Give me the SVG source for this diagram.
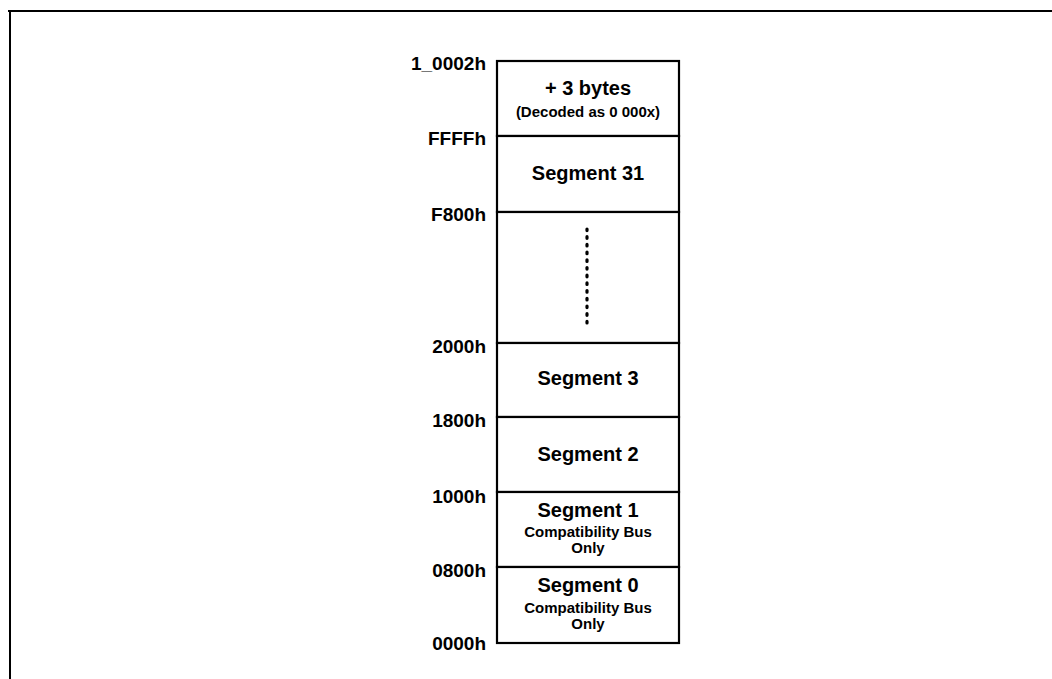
<svg xmlns="http://www.w3.org/2000/svg" width="1052" height="679" viewBox="0 0 1052 679">
<style>
.seg{fill:#fff;stroke:#000;stroke-width:2.2}
.addr{font-family:"Liberation Sans",Arial,sans-serif;font-weight:bold;font-size:19px;text-anchor:end;fill:#000}
.t{font-family:"Liberation Sans",Arial,sans-serif;font-weight:bold;font-size:20px;text-anchor:middle;fill:#000}
.s{font-family:"Liberation Sans",Arial,sans-serif;font-weight:bold;font-size:15px;text-anchor:middle;fill:#000}
</style>
<rect width="1052" height="679" fill="#fff"/>
<path d="M8,11 H1052 M10,11 V679" stroke="#000" stroke-width="2" fill="none"/>
<g id="seg-top"><rect class="seg" x="497" y="61" width="182" height="75"/>
<text class="t" x="588" y="95">+ 3 bytes</text><text class="s" x="588" y="117">(Decoded as 0 000x)</text></g>
<g id="seg31"><rect class="seg" x="497" y="136" width="182" height="76"/>
<text class="t" x="588" y="180">Segment 31</text></g>
<g id="seg-gap"><rect class="seg" x="497" y="212" width="182" height="131"/>
<line x1="587" y1="229" x2="587" y2="326" stroke="#000" stroke-width="3.2" stroke-linecap="round" stroke-dasharray="1.6,6.1"/></g>
<g id="seg3"><rect class="seg" x="497" y="343" width="182" height="74"/>
<text class="t" x="588" y="385">Segment 3</text></g>
<g id="seg2"><rect class="seg" x="497" y="417" width="182" height="75"/>
<text class="t" x="588" y="461">Segment 2</text></g>
<g id="seg1"><rect class="seg" x="497" y="492" width="182" height="75"/>
<text class="t" x="588" y="517">Segment 1</text><text class="s" x="588" y="537">Compatibility Bus</text><text class="s" x="588" y="553">Only</text></g>
<g id="seg0"><rect class="seg" x="497" y="567" width="182" height="76"/>
<text class="t" x="588" y="592">Segment 0</text><text class="s" x="588" y="613">Compatibility Bus</text><text class="s" x="588" y="629">Only</text></g>
<g id="labels">
<text class="addr" x="486" y="70">1_0002h</text>
<text class="addr" x="486" y="145">FFFFh</text>
<text class="addr" x="486" y="221">F800h</text>
<text class="addr" x="486" y="353">2000h</text>
<text class="addr" x="486" y="427">1800h</text>
<text class="addr" x="486" y="503">1000h</text>
<text class="addr" x="486" y="577">0800h</text>
<text class="addr" x="486" y="650">0000h</text>
</g>
</svg>
